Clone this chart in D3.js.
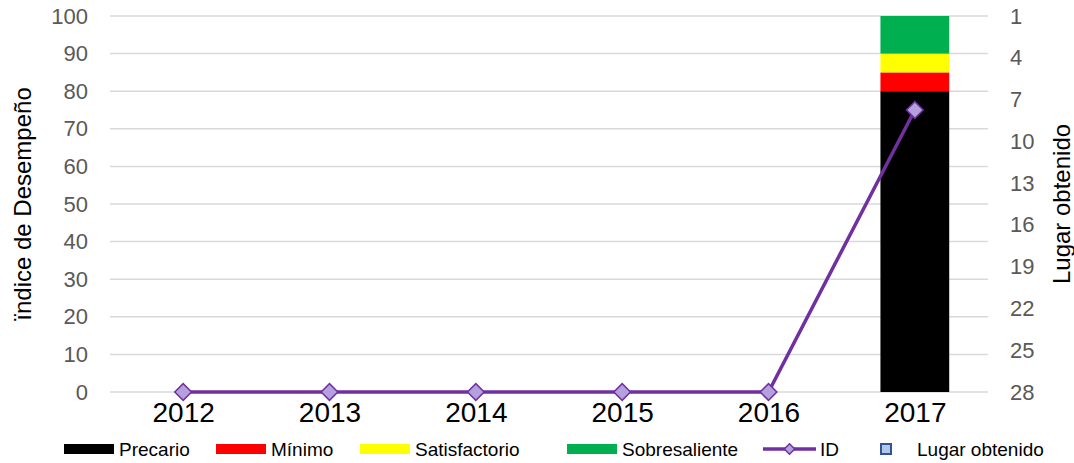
<!DOCTYPE html>
<html>
<head>
<meta charset="utf-8">
<script src="https://cdn.jsdelivr.net/npm/d3@7"></script>
<style>
  body { margin: 0; background: #fff; }
  svg { font-family: "Liberation Sans", Arial, sans-serif; }
</style>
</head>
<body>
<svg id="chart" width="1074" height="463"></svg>
<script>
// data
var years = ["2012", "2013", "2014", "2015", "2016", "2017"];
var precario = [0, 0, 0, 0, 0, 80];
var minimo = [0, 0, 0, 0, 0, 5];
var satisfactorio = [0, 0, 0, 0, 0, 5];
var sobresaliente = [0, 0, 0, 0, 0, 10];
var idValues = [0, 0, 0, 0, 0, 75];
var leftTicks = [0, 10, 20, 30, 40, 50, 60, 70, 80, 90, 100];
var rightTicks = [1, 4, 7, 10, 13, 16, 19, 22, 25, 28];

var svg = d3.select("#chart"),
    plotLeft = 110, plotRight = 988, plotTop = 16, plotBottom = 392;

var xScale = d3.scaleBand().domain(years).range([plotLeft, plotRight]).paddingInner(0.53).paddingOuter(0.265),
    yScale = d3.scaleLinear().domain([0, 100]).range([plotBottom, plotTop]),
    yRight = d3.scaleLinear().domain([28, 1]).range([plotBottom, plotTop]);

var xPoint = d3.scalePoint().domain(years).range([plotLeft, plotRight]).padding(0.5);

// gridlines
svg.append("g")
    .selectAll("line")
    .data(leftTicks)
    .enter().append("line")
    .attr("x1", plotLeft).attr("x2", plotRight)
    .attr("y1", function (d) { return yScale(d); })
    .attr("y2", function (d) { return yScale(d); })
    .attr("stroke", "#d9d9d9")
    .attr("stroke-width", 1.5);

// stacked bars
var keys = ["precario", "minimo", "satisfactorio", "sobresaliente"];
var colors = { precario: "#000000", minimo: "#ff0000", satisfactorio: "#ffff00", sobresaliente: "#00b050" };
var rows = years.map(function (y, i) {
    return { year: y, precario: precario[i], minimo: minimo[i], satisfactorio: satisfactorio[i], sobresaliente: sobresaliente[i] };
});
var stacked = d3.stack().keys(keys)(rows);

svg.append("g")
    .selectAll("g")
    .data(stacked)
    .enter().append("g")
    .attr("fill", function (d) { return colors[d.key]; })
    .selectAll("rect")
    .data(function (d) { return d; })
    .enter().append("rect")
    .attr("x", function (d) { return xScale(d.data.year); })
    .attr("y", function (d) { return yScale(d[1]); })
    .attr("width", xScale.bandwidth())
    .attr("height", function (d) { return yScale(d[0]) - yScale(d[1]); });

// left axis
var yAxis = svg.append("g")
    .attr("transform", "translate(" + (plotLeft - 22) + ",0)")
    .call(d3.axisLeft(yScale).tickValues(leftTicks).tickSize(0).tickPadding(0));
yAxis.select(".domain").remove();
yAxis.selectAll("text").attr("fill", "#595959").style("font-size", "22px");

// right axis
var yAxisR = svg.append("g")
    .attr("transform", "translate(" + (plotRight + 22) + ",0)")
    .call(d3.axisRight(yRight).tickValues(rightTicks).tickSize(0).tickPadding(0));
yAxisR.select(".domain").remove();
yAxisR.selectAll("text").attr("fill", "#595959").style("font-size", "22px");

// x axis
var xAxis = svg.append("g")
    .attr("transform", "translate(0," + (plotBottom + 6) + ")")
    .call(d3.axisBottom(xPoint).tickSize(0).tickPadding(0));
xAxis.select(".domain").remove();
xAxis.selectAll("text").attr("fill", "#000").attr("dy", "0.85em").style("font-size", "28px");

// axis titles
svg.append("text")
    .attr("transform", "translate(31," + ((plotTop + plotBottom) / 2) + ") rotate(-90)")
    .attr("text-anchor", "middle")
    .style("font-size", "24px")
    .text("ïndice de Desempeño");

svg.append("text")
    .attr("transform", "translate(1070," + ((plotTop + plotBottom) / 2) + ") rotate(-90)")
    .attr("text-anchor", "middle")
    .style("font-size", "24px")
    .text("Lugar obtenido");

// ID line
var line = d3.line()
    .x(function (d, i) { return xPoint(years[i]); })
    .y(function (d) { return yScale(d); });

svg.append("path")
    .datum(idValues)
    .attr("d", line)
    .attr("fill", "none")
    .attr("stroke", "#7030a0")
    .attr("stroke-width", 3.5);

var diamond = d3.symbol().type(d3.symbolSquare).size(140);
svg.append("g")
    .selectAll("path")
    .data(idValues)
    .enter().append("path")
    .attr("d", diamond)
    .attr("transform", function (d, i) { return "translate(" + xPoint(years[i]) + "," + yScale(d) + ") rotate(45)"; })
    .attr("fill", "#b4a0dc")
    .attr("stroke", "#7030a0")
    .attr("stroke-width", 1.5);

// legend
var legend = svg.append("g").style("font-size", "19px");
var ly = 449;
var swatches = [
    { x: 64, label: "Precario", color: "#000000" },
    { x: 216, label: "Mínimo", color: "#ff0000" },
    { x: 360, label: "Satisfactorio", color: "#ffff00" },
    { x: 567, label: "Sobresaliente", color: "#00b050" }
];
swatches.forEach(function (s) {
    legend.append("rect").attr("x", s.x).attr("y", ly - 5).attr("width", 50).attr("height", 10).attr("fill", s.color);
    legend.append("text").attr("x", s.x + 55).attr("y", ly).attr("dy", "0.35em").text(s.label);
});
legend.append("line").attr("x1", 763).attr("x2", 816).attr("y1", ly).attr("y2", ly)
    .attr("stroke", "#7030a0").attr("stroke-width", 3.5);
legend.append("path").attr("d", d3.symbol().type(d3.symbolSquare).size(55))
    .attr("transform", "translate(789.5," + ly + ") rotate(45)")
    .attr("fill", "#b4a0dc").attr("stroke", "#7030a0").attr("stroke-width", 1.5);
legend.append("text").attr("x", 820).attr("y", ly).attr("dy", "0.35em").text("ID");
legend.append("rect").attr("x", 881).attr("y", ly - 5).attr("width", 10).attr("height", 10)
    .attr("fill", "#b4c7e7").attr("stroke", "#2f5597").attr("stroke-width", 2);
legend.append("text").attr("x", 917).attr("y", ly).attr("dy", "0.35em").text("Lugar obtenido");
</script>
</body>
</html>
